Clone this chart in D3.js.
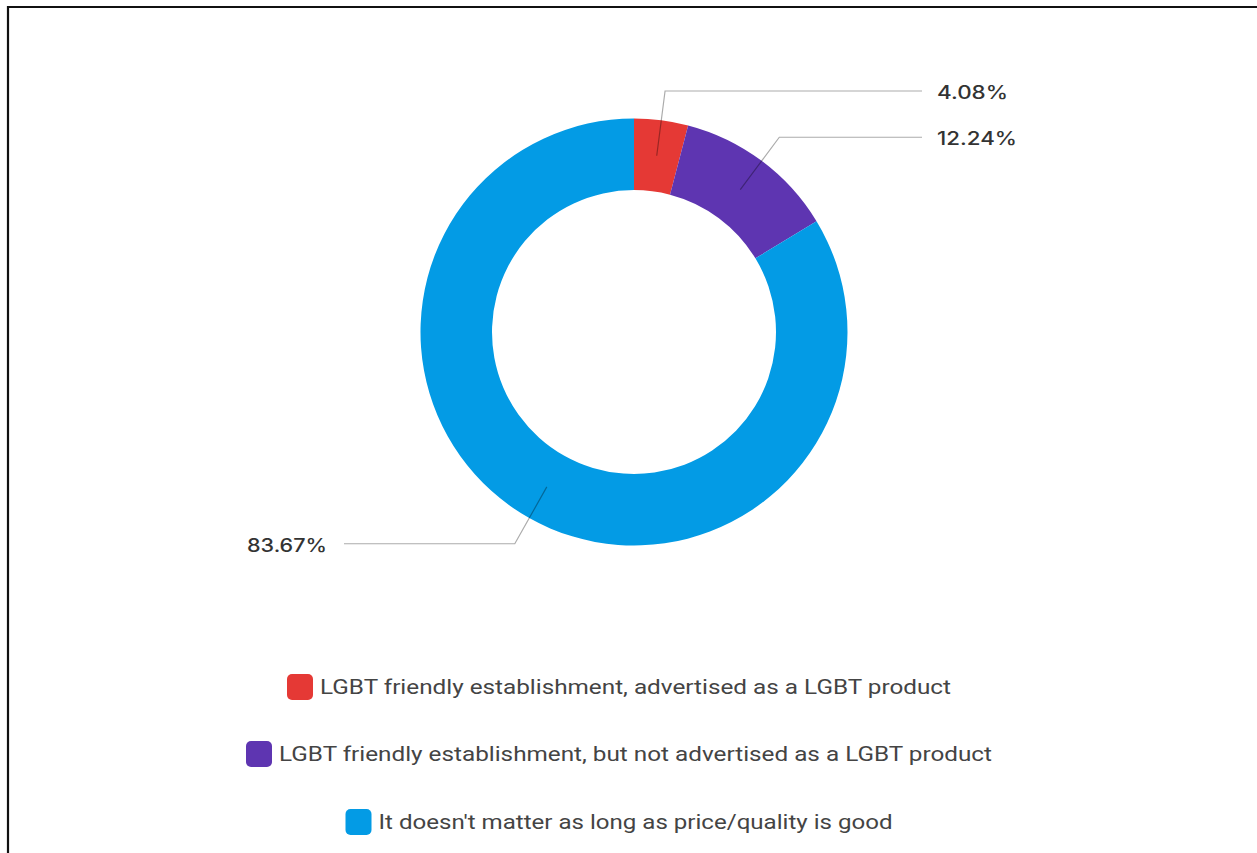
<!DOCTYPE html>
<html>
<head>
<meta charset="utf-8">
<script src="https://cdn.jsdelivr.net/npm/d3@7"></script>
<style>
  html, body { margin: 0; padding: 0; background: #fff; }
  svg { display: block; }
</style>
</head>
<body>
<svg id="chart" width="1257" height="853"></svg>
<script>
// Survey answers and their shares (percent of respondents)
const categories = [
  "LGBT friendly establishment, advertised as a LGBT product",
  "LGBT friendly establishment, but not advertised as a LGBT product",
  "It doesn't matter as long as price/quality is good"
];
const shares = [4.08, 12.24, 83.67];
const valueLabels = ["4.08%", "12.24%", "83.67%"];
const colors = ["#E53935", "#5E35B1", "#039BE5"];

const svg = d3.select("#chart");
const W = 1257, H = 853;

// frame on the top and left edges
svg.append("path")
  .attr("d", `M8,${H} V7 H${W}`)
  .attr("fill", "none")
  .attr("stroke", "#111")
  .attr("stroke-width", 2.2);

const cx = 634, cy = 332;
const outerR = 213.5, innerR = 142;
const midR = (outerR + innerR) / 2;
const elbowR = 243;
const labelLineX = 289;

const data = categories.map((c, i) => ({ name: c, value: shares[i], label: valueLabels[i], color: colors[i] }));

const pie = d3.pie().value(d => d.value).sort(null);
const arcs = pie(data);
const arc = d3.arc().innerRadius(innerR).outerRadius(outerR);

const g = svg.append("g").attr("transform", `translate(${cx},${cy})`);

g.selectAll("path.slice")
  .data(arcs)
  .join("path")
  .attr("class", "slice")
  .attr("d", arc)
  .attr("fill", d => d.data.color);

// leader lines: radial segment from ring middle, then horizontal to the label
const polar = (r, a) => [r * Math.sin(a), -r * Math.cos(a)];
arcs.forEach(d => {
  const a = (d.startAngle + d.endAngle) / 2;
  const p0 = polar(midR, a);
  const p1 = polar(elbowR, a);
  const right = Math.sin(a) >= 0;
  const p2 = [right ? labelLineX - 1 : -labelLineX - 1, p1[1]];
  g.append("polyline")
    .attr("points", [p0, p1, p2].map(p => p.join(",")).join(" "))
    .attr("fill", "none")
    .attr("stroke", "rgba(0,0,0,0.33)")
    .attr("stroke-width", 1.2);
  const tw = d.data.label.length > 5 ? 80 : 71;
  g.append("text")
    .attr("x", right ? p2[0] + 15 : p2[0] - 17 - tw)
    .attr("y", p1[1] + 1.5)
    .attr("dy", "0.36em")
    .attr("textLength", tw)
    .attr("lengthAdjust", "spacingAndGlyphs")
    .attr("font-family", "Inter, 'Noto Sans', sans-serif")
    .attr("font-size", 18)
    .attr("font-weight", 500)
    .attr("fill", "#333")
    .text(d.data.label);
});

// legend: one centered row per category
const legendCx = 619;
const rowY = [687, 754, 822];
const textWidths = [631, 713, 514];
const sw = 26, gap = 7;
data.forEach((d, i) => {
  const total = sw + gap + textWidths[i];
  const x0 = legendCx - total / 2;
  const row = svg.append("g").attr("transform", `translate(${x0},${rowY[i]})`);
  row.append("rect")
    .attr("x", 0).attr("y", -sw / 2)
    .attr("width", sw).attr("height", sw)
    .attr("rx", 5)
    .attr("fill", d.color);
  row.append("text")
    .attr("x", sw + gap)
    .attr("y", 0)
    .attr("dy", "0.36em")
    .attr("textLength", textWidths[i])
    .attr("lengthAdjust", "spacingAndGlyphs")
    .attr("font-family", "Roboto, 'Noto Sans', sans-serif")
    .attr("font-size", 20)
    .attr("fill", "#444")
    .text(d.name);
});
</script>
</body>
</html>
